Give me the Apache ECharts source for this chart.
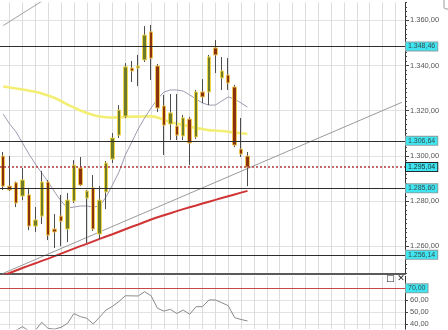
<!DOCTYPE html>
<html>
<head>
<meta charset="utf-8">
<script src="https://cdn.jsdelivr.net/npm/echarts@6.0.0/dist/echarts.min.js"></script>
<style>html,body{margin:0;padding:0;background:#fff;}#chart{width:448px;height:330px;}</style>
</head>
<body>
<div id="chart"></div>
<script>
// ---- data ----
const slotCount = 63;
const categories = Array.from({length: slotCount}, (_, i) => String(i));
const candleOpen  = [1299.9,1286.6,1288.1,1282.2,1282.7,1268.9,1273.3,1288.4,1267.6,1273.3,1267.6,1280.0,1294.6,1281.3,1285.8,1265.4,1284.0,1298.6,1309.2,1317.6,1338.9,1338.9,1342.5,1354.9,1339.8,1322.1,1314.1,1313.2,1308.8,1316.3,1308.4,1328.3,1328.3,1347.8,1334.5,1335.8,1330.5,1303.0,1299.9];
const candleClose = [1286.6,1284.9,1279.1,1289.3,1268.9,1271.6,1288.4,1264.9,1266.3,1271.1,1280.4,1295.9,1287.1,1284.4,1267.6,1280.4,1296.8,1307.9,1320.3,1339.4,1337.6,1339.8,1353.5,1343.3,1321.2,1313.6,1319.0,1309.2,1316.8,1305.7,1328.3,1326.1,1343.8,1344.7,1337.6,1332.3,1304.8,1300.8,1295.04];
const candleLow   = [1284.9,1284.4,1277.3,1280.4,1267.1,1266.3,1269.8,1262.7,1259.2,1260.0,1261.8,1279.1,1286.6,1261.4,1266.7,1263.1,1276.4,1296.8,1307.9,1316.8,1332.7,1330.9,1341.6,1333.6,1319.4,1300.4,1307.0,1307.0,1307.0,1296.0,1307.5,1323.4,1322.5,1336.7,1329.2,1329.2,1303.9,1299.5,1286.6];
const candleHigh  = [1301.7,1299.9,1288.6,1294.6,1285.8,1277.3,1293.3,1289.3,1274.2,1282.7,1283.5,1298.1,1299.5,1284.9,1291.5,1286.6,1297.7,1310.1,1322.5,1341.1,1342.0,1344.7,1357.5,1358.0,1340.7,1327.0,1327.4,1327.4,1318.1,1317.2,1329.2,1334.0,1344.7,1351.3,1343.8,1343.3,1331.4,1316.8,1301.7];
const maYellow = [1330.7,1330.3,1329.8,1329.4,1328.9,1328.4,1327.6,1326.7,1325.6,1324.3,1322.7,1321.4,1320.1,1319.0,1318.1,1317.4,1317.1,1317.0,1317.1,1317.2,1317.4,1317.4,1317.5,1317.5,1317.0,1315.9,1315.0,1314.3,1313.7,1313.0,1312.3,1311.9,1311.4,1311.2,1311.0,1310.7,1310.3,1310.0,1309.7];
const maGray   = [1318.5,1314.1,1310.6,1305.7,1300.8,1296.4,1292.4,1288.4,1284.0,1280.0,1276.9,1277.3,1277.8,1277.8,1277.3,1277.8,1281.8,1287.1,1292.8,1300.4,1306.1,1311.9,1316.8,1321.2,1325.2,1328.3,1329.2,1329.2,1328.7,1327.0,1325.2,1323.4,1322.5,1322.5,1324.3,1326.1,1325.2,1323.4,1321.6];
const maRed    = [1247.1,1248.1,1249.2,1250.3,1251.4,1252.4,1253.5,1254.5,1255.6,1256.7,1257.8,1258.9,1260.0,1261.0,1262.1,1263.2,1264.3,1265.3,1266.4,1267.5,1268.6,1269.6,1270.7,1271.8,1272.8,1273.7,1274.6,1275.5,1276.4,1277.2,1278.0,1278.9,1279.7,1280.5,1281.3,1282.1,1282.9,1283.7,1284.5];
const rsiValues = [33,33.5,35,38,34.5,35,41.7,36.5,36,37.5,40.8,49,46.4,45,40.3,46,51.9,55,59,63.8,63.7,63.6,67.2,63.8,53.3,51,52.5,49,51.9,48.3,54.7,54.7,60.3,60.3,58,55.5,45.5,44,42.8];
const levelLines = [1348.46, 1306.64, 1285.60, 1256.14];
const currentPrice = 1295.04;
const rsiLevel = 70;
const trendSupport = [[0, 1247.97], [62, 1323.7]];
const trendResistance = [[0, 1357.7], [7, 1370.3]];
const priceTicks = [1260, 1280, 1300, 1320, 1340, 1360];
const rsiTicks = [40, 50, 60];

// ---- helpers ----
const FONT = 'Liberation Sans, Arial, sans-serif';
function fmtNum(v, d) {
  const s = v.toFixed(d);
  const parts = s.split('.');
  return parts[0].replace(/\B(?=(\d{3})+(?!\d))/g, '.') + ',' + parts[1];
}
const labelBox = (extra) => Object.assign({
  show: true, position: 'end', distance: 1,
  backgroundColor: '#3fe6f2', borderColor: '#8aa0a0', borderWidth: 1,
  padding: [1, 2, 0, 2], color: '#3a4a4a', fontSize: 7, fontFamily: FONT
}, extra || {});

const candleData = candleOpen.map((o, i) => [o, candleClose[i], candleLow[i], candleHigh[i]]);
const bodyData = candleOpen.map((o, i) => [o, candleClose[i], Math.min(o, candleClose[i]), Math.max(o, candleClose[i])]);

const chart = echarts.init(document.getElementById('chart'), null, {renderer: 'canvas'});
const gridLeft = -4, gridRight = 43;
const option = {
  animation: false,
  backgroundColor: '#ffffff',
  grid: [
    {left: gridLeft, right: gridRight, top: 2.35, height: 270.9},
    {left: gridLeft, right: gridRight, top: 276.3, height: 52.8}
  ],
  xAxis: [
    {type: 'category', gridIndex: 0, data: categories, boundaryGap: true,
     axisLine: {show: true, onZero: false, lineStyle: {color: '#5a5a5a', width: 2}},
     axisTick: {show: false}, axisLabel: {show: false}, splitLine: {show: false}},
    {type: 'category', gridIndex: 1, data: categories, boundaryGap: true, show: false},
    {type: 'value', gridIndex: 0, min: 0.5, max: slotCount + 0.5, minInterval: 2, maxInterval: 2,
     axisLine: {show: false}, axisTick: {show: false}, axisLabel: {show: false},
     splitLine: {show: true, showMinLine: false, showMaxLine: false, lineStyle: {color: '#dcdcdc', width: 1}}},
    {type: 'value', gridIndex: 1, min: 0.5, max: slotCount + 0.5, minInterval: 2, maxInterval: 2,
     axisLine: {show: false}, axisTick: {show: false}, axisLabel: {show: false},
     splitLine: {show: true, showMinLine: false, showMaxLine: false, lineStyle: {color: '#dcdcdc', width: 1}}}
  ],
  yAxis: [
    {type: 'value', gridIndex: 0, position: 'right', min: 1248, max: 1368, interval: 2, scale: true,
     axisLine: {show: true, lineStyle: {color: '#333', width: 1}},
     axisTick: {show: true, inside: false, length: 2, lineStyle: {color: '#444'}},
     axisLabel: {show: false}, splitLine: {show: false}},
    {type: 'value', gridIndex: 0, position: 'right', min: 1248, max: 1368, splitNumber: 6, scale: true,
     axisLine: {show: false},
     axisTick: {show: true, inside: false, length: 4, lineStyle: {color: '#444'}},
     axisLabel: {show: true, margin: 5, color: '#555', fontSize: 7.5, fontFamily: FONT,
       showMinLabel: false, showMaxLabel: false,
       formatter: v => priceTicks.indexOf(Math.round(v)) >= 0 && Math.abs(v - Math.round(v)) < 1e-6 ? fmtNum(v, 2) : ''},
     splitLine: {show: true, showMinLine: false, showMaxLine: false, lineStyle: {color: '#e2e2e2', width: 1}}},
    {type: 'value', gridIndex: 1, position: 'right', min: 36, max: 80, splitNumber: 5, scale: true,
     axisLine: {show: true, lineStyle: {color: '#333', width: 1}},
     axisTick: {show: true, inside: false, length: 3, lineStyle: {color: '#444'}},
     axisLabel: {show: true, margin: 5, color: '#555', fontSize: 7.5, fontFamily: FONT,
       showMinLabel: false, showMaxLabel: false,
       formatter: v => rsiTicks.indexOf(v) >= 0 ? fmtNum(v, 2) : ''},
     splitLine: {show: true, showMinLine: false, showMaxLine: false, lineStyle: {color: '#e2e2e2', width: 1}}}
  ],
  series: [
    {type: 'line', name: 'support', xAxisIndex: 0, yAxisIndex: 0, data: trendSupport,
     symbol: 'none', silent: true, z: 1, clip: true,
     lineStyle: {color: '#9a9a9a', width: 1},
     markLine: {silent: true, symbol: 'none', animation: false, precision: 2,
       data: levelLines.map(v => ({yAxis: v, lineStyle: {color: '#2e2e2e', width: 1, type: 'solid'},
         label: labelBox({formatter: () => fmtNum(v, 2)})})).concat([
         {yAxis: currentPrice, lineStyle: {color: '#b03a3a', width: 1.5, type: [2, 2]},
          label: labelBox({formatter: () => fmtNum(currentPrice, 2), borderColor: '#222', color: '#1a2a2a'})}
       ])}},
    {type: 'line', name: 'resistance', xAxisIndex: 0, yAxisIndex: 0, data: trendResistance,
     symbol: 'none', silent: true, z: 1, clip: true, lineStyle: {color: '#a0a0a0', width: 1}},
    {type: 'line', name: 'maRed', xAxisIndex: 0, yAxisIndex: 0, data: maRed,
     symbol: 'none', silent: true, z: 2, clip: true, lineStyle: {color: '#d03434', width: 2}},
    {type: 'line', name: 'maYellow', xAxisIndex: 0, yAxisIndex: 0, data: maYellow, smooth: 0.3,
     symbol: 'none', silent: true, z: 2, clip: true, lineStyle: {color: '#f3ee74', width: 2.6}},
    {type: 'line', name: 'maGray', xAxisIndex: 0, yAxisIndex: 0, data: maGray,
     symbol: 'none', silent: true, z: 2, clip: true, lineStyle: {color: '#9c9cb2', width: 1}},
    {type: 'candlestick', name: 'wick', xAxisIndex: 0, yAxisIndex: 0, data: candleData,
     barWidth: 1, silent: true, z: 3, clip: true,
     itemStyle: {color: '#4d4d4d', color0: '#4d4d4d', borderColor: '#4d4d4d', borderColor0: '#4d4d4d', borderWidth: 1}},
    {type: 'candlestick', name: 'body', xAxisIndex: 0, yAxisIndex: 0, data: bodyData,
     barWidth: 4, silent: true, z: 4, clip: true,
     itemStyle: {color: '#6d7b2b', color0: '#8a3210', borderColor: '#f0d64a', borderColor0: '#f0c650', borderWidth: 1}},
    {type: 'line', name: 'rsi', xAxisIndex: 1, yAxisIndex: 2, data: rsiValues,
     symbol: 'none', silent: true, z: 3, clip: true, lineStyle: {color: '#8a8a8a', width: 1},
     markLine: {silent: true, symbol: 'none', animation: false,
       data: [{yAxis: rsiLevel, lineStyle: {color: '#c84848', width: 1, type: 'solid'},
         label: labelBox({formatter: () => fmtNum(rsiLevel, 2)})}]}}
  ],
  graphic: [
    {type: 'text', left: 386, top: 274, z: 10, silent: true,
     style: {text: '\u25A1 \u2715', fill: '#222', font: '9px DejaVu Sans'}},
    {type: 'rect', z: 10, silent: true, shape: {x: 444, y: -6, width: 10, height: 15, r: 2},
     style: {fill: '#fff', stroke: '#9a9a9a', lineWidth: 1}}
  ]
};
chart.setOption(option);
</script>
</body>
</html>
